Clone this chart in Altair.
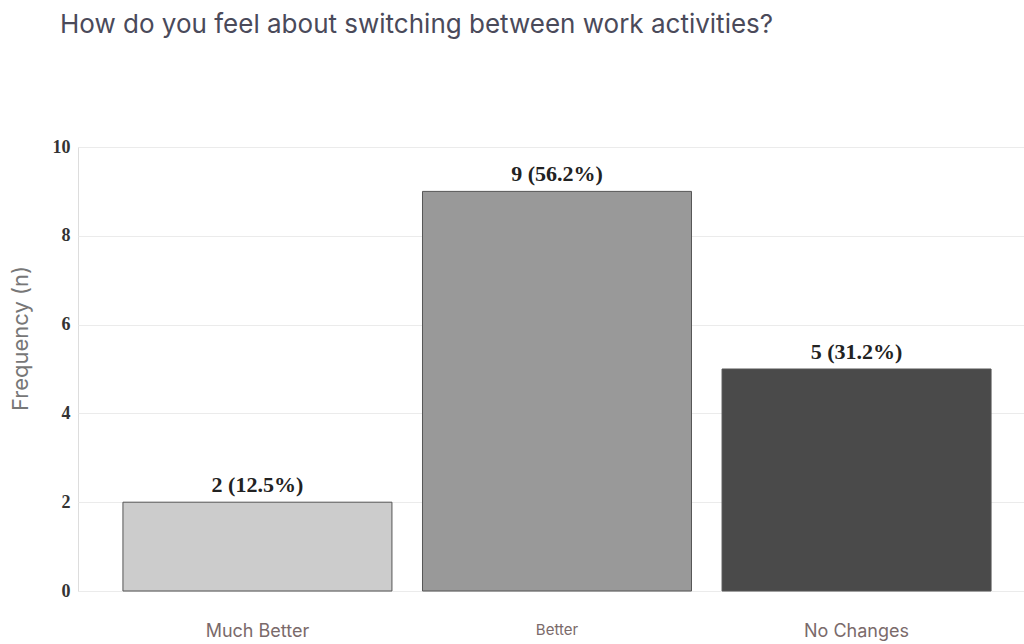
import altair as alt
import pandas as pd

categories = ["Much Better", "Better", "No Changes"]
counts = [2, 9, 5]
labels = ["2 (12.5%)", "9 (56.2%)", "5 (31.2%)"]
colors = ["#cccccc", "#999999", "#4a4a4a"]

df = pd.DataFrame({"cat": categories, "n": counts, "label": labels})

x = alt.X(
    "cat:N",
    sort=categories,
    title=None,
    scale=alt.Scale(paddingInner=0.102, paddingOuter=0.13, align=0.577),
    axis=alt.Axis(
        domain=False, ticks=False, labelAngle=0, labelPadding=31,
        labelFont="Inter", labelColor="#7a6a6a",
        labelFontSize={"condition": {"test": "datum.value == 'Better'", "value": 15}, "value": 18},
    ),
)
y = alt.Y(
    "n:Q",
    title="Frequency (n)",
    scale=alt.Scale(domain=[0, 10]),
    axis=alt.Axis(
        values=[0, 2, 4, 6, 8, 10], domain=False, ticks=False, labelPadding=8,
        labelFont="Liberation Serif", labelFontWeight="bold", labelFontSize=18, labelColor="#333333",
        titleFont="Inter", titleFontSize=22, titleFontWeight="normal", titleColor="#777777",
        titleX=-58, titleY=191, titleAlign="center", titleBaseline="middle", titleAngle=270,
        gridColor="#ebebeb", gridWidth=1,
    ),
)

bars = alt.Chart(df).mark_bar(stroke="#555555", strokeWidth=1).encode(
    x=x, y=y,
    color=alt.Color("cat:N", scale=alt.Scale(domain=categories, range=colors), legend=None),
)
text = alt.Chart(df).mark_text(
    dy=-10, font="Liberation Serif", fontSize=22, fontWeight="bold", color="#222222",
    baseline="alphabetic",
).encode(
    x=alt.X("cat:N", sort=categories), y="n:Q", text="label:N"
)

chart = (bars + text).properties(
    width=946, height=444,
    autosize=alt.AutoSizeParams(type="none"),
    padding={"left": 78, "top": 147, "right": 0, "bottom": 50},
    title=alt.TitleParams(
        "How do you feel about switching between work activities?",
        anchor="start", frame="group", dx=-18, offset=100,
        font="Inter", fontSize=26, fontWeight="normal", color="#4a4a5a",
    ),
).configure_view(stroke=None).configure(background="white")

chart.save("out.html", embed_options={"renderer": "svg", "actions": False})
